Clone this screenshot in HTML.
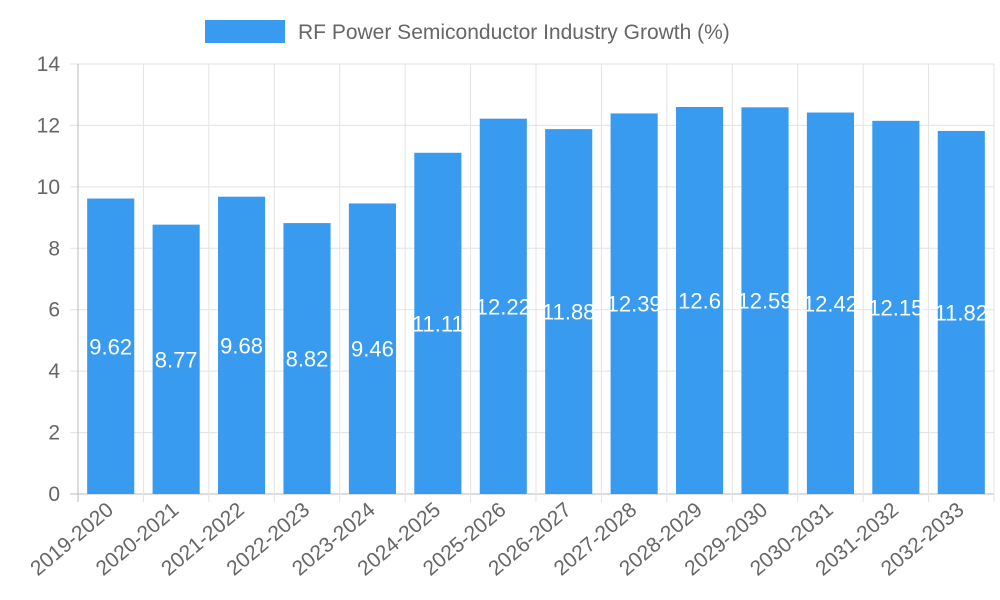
<!DOCTYPE html>
<html><head><meta charset="utf-8"><style>
html,body{margin:0;padding:0;background:#fff;}
svg{display:block;font-family:"Liberation Sans",sans-serif;}
</style></head><body>
<svg id="chart" width="1000" height="600"></svg>
<script>
const categories=["2019-2020","2020-2021","2021-2022","2022-2023","2023-2024","2024-2025","2025-2026","2026-2027","2027-2028","2028-2029","2029-2030","2030-2031","2031-2032","2032-2033"];
const growthValues=[9.62,8.77,9.68,8.82,9.46,11.11,12.22,11.88,12.39,12.6,12.59,12.42,12.15,11.82];
const yTicks=[0,2,4,6,8,10,12,14];
const NS="http://www.w3.org/2000/svg";
const svg=document.getElementById("chart");
const L=78,R=994,T=64,B=494,yMax=14;
const bw=(R-L)/categories.length;
const y=v=>B-(v/yMax)*(B-T);
const xc=i=>L+bw*(i+0.5);
function mk(tag,attrs,parent){const e=document.createElementNS(NS,tag);for(const k in attrs)e.setAttribute(k,attrs[k]);(parent||svg).appendChild(e);return e;}
// legend
const lg=mk("g",{});


const lb=mk("rect",{x:205,y:20,width:80,height:23,fill:"#389bf0"},lg);


const lt=mk("text",{x:298,y:39,"font-size":"21",fill:"#666"},lg);
lt.textContent="RF Power Semiconductor Industry Growth (%)";


// grid + y ticks
yTicks.forEach(t=>{
 const gl=mk("line",{x1:70,x2:R,y1:y(t),y2:y(t),stroke:t===0?"#bbb":"#e3e3e3","stroke-width":1});
 
 
 const tx=mk("text",{x:60,y:y(t)+7,"text-anchor":"end","font-size":"21",fill:"#666"});
 tx.textContent=t;
 
 
});
for(let i=0;i<=categories.length;i++){
 const x=L+bw*i;
 const vl=mk("line",{x1:x,x2:x,y1:T,y2:B+8,stroke:i===0?"#bbb":"#e3e3e3","stroke-width":1});
 
 
}
// bars
const barW=bw*0.72;
categories.forEach((c,i)=>{
 const v=growthValues[i];
 const r=mk("rect",{x:xc(i)-barW/2,y:y(v),width:barW,height:B-y(v),fill:"#389bf0"});
 
 
 const vt=mk("text",{x:xc(i),y:(y(v)+B)/2+8,"text-anchor":"middle","font-size":"22",fill:"#fff"});
 vt.textContent=v;
 
 
 const xt=mk("text",{x:xc(i)+4,y:512,"text-anchor":"end","font-size":"21",fill:"#666",transform:`rotate(-40 ${xc(i)+4} 512)`});
 xt.textContent=c;
 
 
});
</script>
</body></html>
